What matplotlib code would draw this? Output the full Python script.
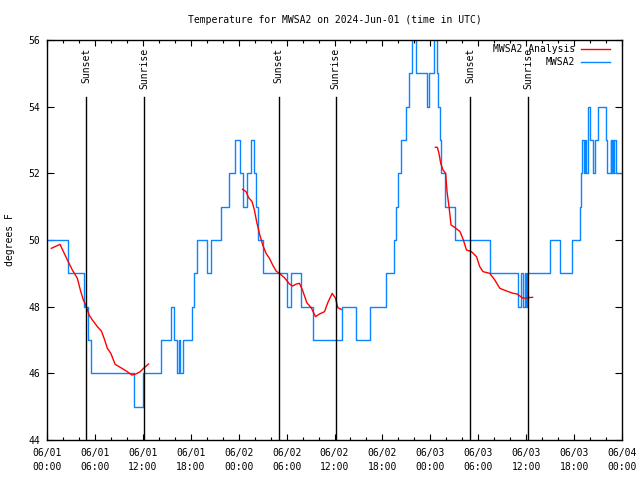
import matplotlib
matplotlib.use("Agg")
import matplotlib.pyplot as plt
from matplotlib.lines import Line2D

# ---- data (hours since 2024-06-01 00:00 UTC) ----
obs_hours = [0.00, 2.63, 4.64, 5.14, 5.46, 10.91, 11.98, 14.24, 15.49, 15.93,
             16.31, 16.50, 16.68, 17.00, 18.13, 18.44, 18.75, 20.01, 20.51, 21.76,
             22.77, 23.52, 24.21, 24.52, 25.03, 25.53, 25.97, 26.22, 26.47, 27.10,
             30.11, 30.54, 31.80, 33.30, 36.94, 38.70, 40.45, 42.46, 43.40, 43.65,
             43.97, 44.28, 44.97, 45.28, 45.66, 45.79, 46.04, 46.16, 47.54, 47.79,
             48.42, 48.54, 48.80, 48.92, 49.17, 49.36, 49.80, 51.05, 55.51, 59.02,
             59.33, 59.65, 59.83, 59.96, 60.09, 62.97, 64.29, 65.80, 66.73, 66.92,
             67.05, 67.20, 67.36, 67.52, 67.80, 67.95, 68.36, 68.61, 68.99, 69.99,
             70.18, 70.56, 70.68, 70.81, 70.93, 71.06, 71.19, 72.00]
obs_temp = [50, 49, 48, 47, 46, 45, 46, 47, 48, 47,
            46, 47, 46, 47, 48, 49, 50, 49, 50, 51,
            52, 53, 52, 51, 52, 53, 52, 51, 50, 49,
            48, 49, 48, 47, 48, 47, 48, 49, 50, 51,
            52, 53, 54, 55, 56, 57, 56, 55, 54, 55,
            56, 57, 55, 54, 53, 52, 51, 50, 49, 48,
            49, 48, 49, 48, 49, 50, 49, 50, 51, 52,
            53, 52, 53, 52, 54, 53, 52, 53, 54, 53,
            52, 53, 52, 53, 52, 53, 52, 52]

ana1_hours = [0.54, 1.63, 2.55, 3.17, 3.80, 4.23, 4.55, 4.85, 5.27, 5.68,
              6.31, 6.81, 7.15, 7.56, 7.99, 8.53, 9.24, 9.87, 10.62, 11.13,
              11.67, 12.08, 12.71]
ana1_temp = [49.75, 49.87, 49.40, 49.10, 48.85, 48.45, 48.20, 48.05, 47.75, 47.60,
             47.40, 47.27, 47.05, 46.75, 46.60, 46.27, 46.17, 46.08, 45.95, 45.98,
             46.05, 46.15, 46.28]
ana2_hours = [24.50, 24.92, 25.25, 25.68, 25.97, 26.25, 26.59, 27.01, 27.43, 27.85,
              28.26, 28.69, 29.19, 29.73, 30.36, 30.77, 31.23, 31.61, 32.02, 32.53,
              33.08, 33.62, 34.12, 34.75, 35.16, 35.71, 36.13, 36.41, 36.84]
ana2_temp = [51.52, 51.45, 51.27, 51.15, 50.90, 50.55, 50.20, 49.85, 49.60, 49.45,
             49.25, 49.07, 48.98, 48.87, 48.68, 48.62, 48.68, 48.70, 48.48, 48.12,
             47.97, 47.70, 47.78, 47.85, 48.12, 48.40, 48.25, 47.97, 47.92]
ana3_hours = [48.63, 48.88, 49.08, 49.30, 49.59, 49.92, 50.09, 50.34, 50.59, 51.05,
              51.72, 52.14, 52.52, 53.15, 53.78, 54.19, 54.60, 55.44, 56.07, 56.70,
              57.54, 58.37, 58.87, 59.21, 59.62, 60.25, 60.80]
ana3_temp = [52.78, 52.78, 52.60, 52.30, 52.10, 52.00, 51.45, 51.00, 50.45, 50.38,
             50.25, 50.00, 49.70, 49.65, 49.50, 49.20, 49.05, 49.00, 48.80, 48.55,
             48.47, 48.40, 48.38, 48.32, 48.25, 48.27, 48.28]

sun_hours = [4.93, 12.20, 29.01, 36.16, 52.97, 60.25]
sun_labels = ["Sunset", "Sunrise", "Sunset", "Sunrise", "Sunset", "Sunrise"]

xtick_hours = [0, 6, 12, 18, 24, 30, 36, 42, 48, 54, 60, 66, 72]
xtick_labels = ["06/01\n00:00", "06/01\n06:00", "06/01\n12:00", "06/01\n18:00",
                "06/02\n00:00", "06/02\n06:00", "06/02\n12:00", "06/02\n18:00",
                "06/03\n00:00", "06/03\n06:00", "06/03\n12:00", "06/03\n18:00",
                "06/04\n00:00"]
yticks = [44, 46, 48, 50, 52, 54, 56]

title = "Temperature for MWSA2 on 2024-Jun-01 (time in UTC)"
ylabel = "degrees F"

RED = "#ff0000"
BLUE = "#0a84ff"
FONT = "DejaVu Sans Mono"
FS = 7

plt.rcParams["font.family"] = FONT
plt.rcParams["font.size"] = FS

fig = plt.figure(figsize=(6.4, 4.8), dpi=100)
ax = fig.add_axes([47 / 640, 40 / 480, 575 / 640, 400 / 480])

ax.set_xlim(0, 72)
ax.set_ylim(44, 56)

# analysis (red)
for hh, tt in [(ana1_hours, ana1_temp), (ana2_hours, ana2_temp), (ana3_hours, ana3_temp)]:
    ax.plot(hh, tt, color=RED, lw=1.0, zorder=3)

# observations (blue)
ax.plot(obs_hours, obs_temp, color=BLUE, lw=1.0, drawstyle="steps-post", zorder=2)

# sunrise / sunset
for h, lab in zip(sun_hours, sun_labels):
    ax.axvline(h, ymin=0, ymax=0.8575, color="black", lw=1.0, zorder=4)
    ax.text(h, 0.98, lab, transform=ax.get_xaxis_transform(), rotation=90,
            ha="center", va="top", fontsize=FS, family=FONT)

# ticks
ax.set_xticks(xtick_hours)
ax.set_xticklabels(xtick_labels, linespacing=1.45)
ax.set_xticks(list(range(0, 73, 2)), minor=True)
ax.set_yticks(yticks)
ax.tick_params(axis="both", which="both", direction="in", top=True, right=True,
               width=0.8, labelsize=FS)
ax.tick_params(axis="x", which="major", length=4, pad=6)
ax.tick_params(axis="x", which="minor", length=2)
ax.tick_params(axis="y", which="major", length=5, pad=5)
for s in ax.spines.values():
    s.set_linewidth(1.0)

# legend (gnuplot style: label then sample line)
lx_text = (575 - 47) / 575
items = [("MWSA2 Analysis", RED, (440 - 49) / 400), ("MWSA2", BLUE, (440 - 62) / 400)]
for lab, col, yy in items:
    ax.text(lx_text, yy, lab, transform=ax.transAxes, ha="right", va="center",
            fontsize=FS, family=FONT)
    ax.add_line(Line2D([(581 - 47) / 575, (610 - 47) / 575], [yy, yy],
                       transform=ax.transAxes, color=col, lw=1.0))

fig.text(335 / 640, 1 - 20 / 480, title, ha="center", va="center", fontsize=FS)
fig.text(10 / 640, 0.5, ylabel, rotation=90, ha="center", va="center", fontsize=FS)

fig.savefig("out.png", dpi=100)
